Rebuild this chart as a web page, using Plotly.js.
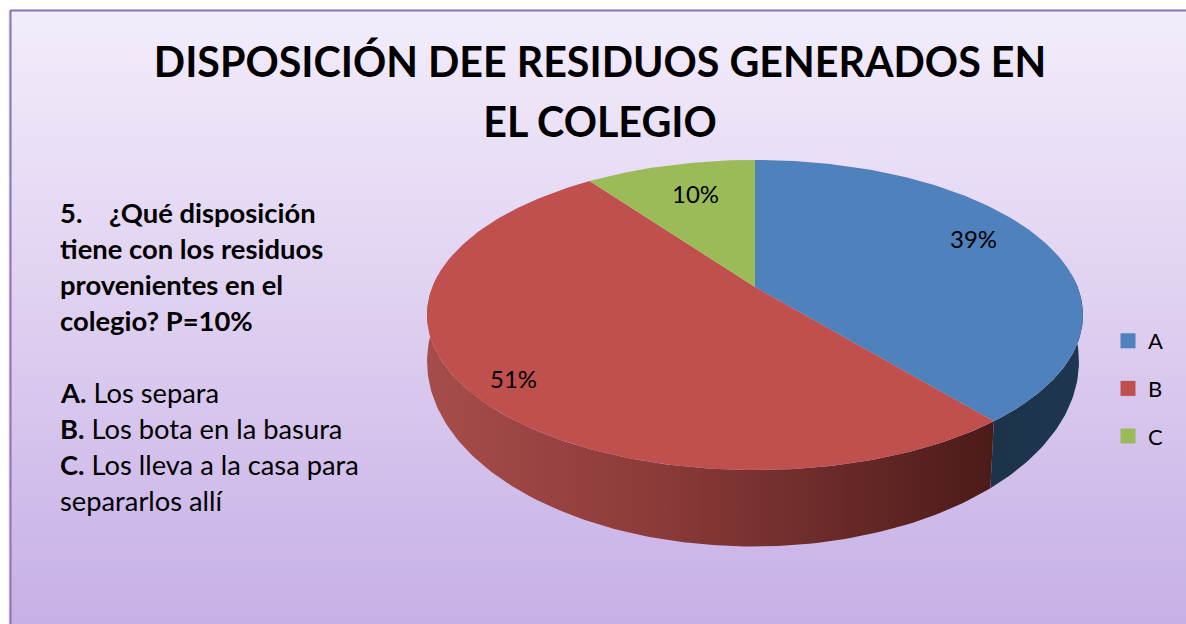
<!DOCTYPE html>
<html>
<head>
<meta charset="utf-8">
<script src="https://cdn.plot.ly/plotly-3.0.1.min.js"></script>
<style>html,body{margin:0;padding:0;background:#fff;overflow:hidden}</style>
</head>
<body>
<div id="chart" style="width:1186px;height:624px"></div>
<script>
// ---- data ----
const categories = ['A', 'B', 'C'];
const shares = [39, 51, 10];
const sliceColors = ['#4f81bd', '#c0504d', '#9bbb59'];
const titleLines = ['DISPOSICIÓN DEE RESIDUOS GENERADOS EN', 'EL COLEGIO'];
const questionLines = ['<b>5.    ¿Qué disposición</b>', '<b>tiene con los residuos</b>', '<b>provenientes en el</b>', '<b>colegio? P=10%</b>'];
const optionLines = ['<b>A.</b> Los separa', '<b>B.</b> Los bota en la basura', '<b>C.</b> Los lleva a la casa para', 'separarlos allí'];

// ---- geometry of the tilted disc, in plot coordinates ----
const FONT = 'Lato, Carlito, sans-serif';
const K = 0.1806;
const TOP_RIM = { cx: 755, cy: 287, rx: 322.6, ry: 150 };
const BOTTOM_RIM = { cx: 753, cy: 328, rx: 320.6, ry: 179 };
function rim(deg, e) {
  const t = deg * Math.PI / 180, u = Math.sin(t), v = Math.cos(t), w = 1 + K * v;
  return [e.cx + e.rx * u / w, e.cy - e.ry * v / w];
}
function arc(from, to, e) {
  const n = Math.max(2, Math.ceil(Math.abs(to - from))), pts = [];
  for (let i = 0; i <= n; i++) pts.push(rim(from + (to - from) * i / n, e));
  return pts;
}
const total = shares.reduce((a, b) => a + b, 0);
const starts = [], ends = [];
shares.reduce((acc, v, i) => { starts[i] = acc; ends[i] = acc + v / total * 360; return ends[i]; }, 0);

function faceTrace(i) {
  const c = [TOP_RIM.cx, TOP_RIM.cy];
  const pts = [c].concat(arc(starts[i], ends[i], TOP_RIM), [c]);
  return { type: 'scatter', mode: 'lines', x: pts.map(p => p[0]), y: pts.map(p => p[1]),
    fill: 'toself', fillcolor: sliceColors[i], line: { width: 0 }, hoverinfo: 'skip',
    showlegend: false, name: categories[i] + ' cara' };
}
function sideTrace(from, to, gradient, name) {
  const pts = arc(from, to, TOP_RIM).concat(arc(to, from, BOTTOM_RIM));
  pts.push(pts[0]);
  return { type: 'scatter', mode: 'lines', x: pts.map(p => p[0]), y: pts.map(p => p[1]),
    fill: 'toself', fillgradient: gradient, line: { width: 0 }, hoverinfo: 'skip', showlegend: false, name };
}
const background = { type: 'scatter', mode: 'lines', x: [10, 1186, 1186, 10, 10], y: [10, 10, 624, 624, 10],
  fill: 'toself', line: { width: 0 }, hoverinfo: 'skip', showlegend: false, name: 'fondo',
  fillgradient: { type: 'vertical', start: 10, stop: 624,
    colorscale: [[0, '#f3edfb'], [0.5, '#decff0'], [1, '#c6b0e6']] } };
const sideB = sideTrace(ends[0], 275, { type: 'horizontal', start: 427, stop: 995,
  colorscale: [[0, '#a64d4a'], [0.4, '#8c3b39'], [1, '#4b1b1a']] }, 'B lado');
const sideA = sideTrace(85, ends[0], { type: 'horizontal', start: 985, stop: 1083,
  colorscale: [[0, '#1c3349'], [1, '#1e3650']] }, 'A lado');
const legendTraces = categories.map((c, i) => ({ type: 'scatter', mode: 'markers', x: [null], y: [null], name: c,
  legendgroup: c, marker: { symbol: 'square', size: 15, color: sliceColors[i] }, hoverinfo: 'skip' }));

const textNote = (text, x, y, size, anchor) => ({ text, x, y, xref: 'x', yref: 'y', xanchor: anchor, yanchor: 'middle',
  showarrow: false, font: { family: FONT, size, color: '#000' } });
const labelSpots = [[973, 238], [513, 378], [695, 193]];
const annotations = [
  ...questionLines.map((t, i) => textNote(t, 58, 212 + i * 36.2, 27.4, 'left')),
  ...optionLines.map((t, i) => textNote(t, 58, 392 + i * 36, 27.3, 'left')),
  ...shares.map((v, i) => textNote(v + '%', labelSpots[i][0], labelSpots[i][1], 24, 'center'))
];

const layout = {
  width: 1186, height: 624, autosize: false,
  margin: { l: 0, r: 0, t: 0, b: 0 },
  paper_bgcolor: '#ffffff', plot_bgcolor: 'rgba(0,0,0,0)',
  title: { text: titleLines.map(t => '<span style="font-size:41.2px">' + t + '</span>').join('<br>'),
    x: 600 / 1186, xanchor: 'center', y: 1 - 77 / 624, yanchor: 'top', xref: 'paper', yref: 'container',
    font: { family: FONT, size: 46, color: '#000', weight: 700 } },
  xaxis: { range: [0, 1186], visible: false, fixedrange: true },
  yaxis: { range: [624, 0], visible: false, fixedrange: true },
  legend: { x: 1108 / 1186, xanchor: 'left', y: 1 - 320 / 624, yanchor: 'top', tracegroupgap: 16,
    bgcolor: 'rgba(0,0,0,0)', font: { family: FONT, size: 22, color: '#000' } },
  annotations,
  shapes: [
    { type: 'line', xref: 'x', yref: 'y', x0: 9, x1: 9, y0: 10, y1: 624, line: { color: '#dcdcdc', width: 1 } },
    { type: 'line', xref: 'x', yref: 'y', x0: 10, x1: 1186, y0: 10.5, y1: 10.5, line: { color: '#8a70b6', width: 2 } },
    { type: 'line', xref: 'x', yref: 'y', x0: 10.5, x1: 10.5, y0: 10, y1: 624, line: { color: '#8a70b6', width: 2 } }
  ]
};
Plotly.newPlot('chart', [background, sideB, sideA, faceTrace(0), faceTrace(1), faceTrace(2), ...legendTraces], layout,
  { displayModeBar: false, staticPlot: true });
</script>
</body>
</html>
